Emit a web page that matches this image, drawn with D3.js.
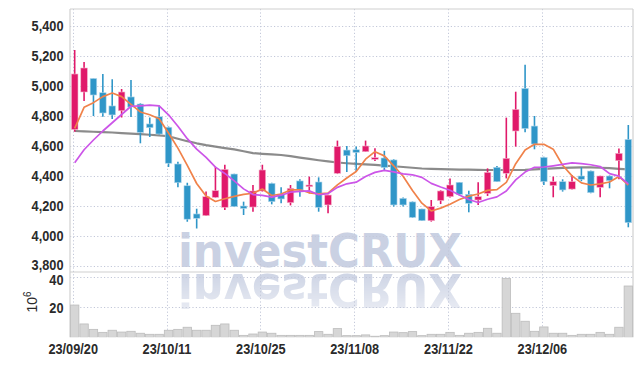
<!DOCTYPE html>
<html><head><meta charset="utf-8">
<script src="https://cdn.jsdelivr.net/npm/d3@7"></script>
<style>body{margin:0;background:#fff;} svg{display:block}</style>
</head><body>
<svg id="c" width="643" height="366"></svg>
<script>
const dates = ["23/09/20","23/09/21","23/09/22","23/09/25","23/09/26","23/09/27","23/10/04","23/10/05","23/10/06","23/10/10",
"23/10/11","23/10/12","23/10/13","23/10/16","23/10/17","23/10/18","23/10/19","23/10/20","23/10/23","23/10/24",
"23/10/25","23/10/26","23/10/27","23/10/30","23/10/31","23/11/01","23/11/02","23/11/03","23/11/06","23/11/07",
"23/11/08","23/11/09","23/11/10","23/11/13","23/11/14","23/11/15","23/11/16","23/11/17","23/11/20","23/11/21",
"23/11/22","23/11/23","23/11/24","23/11/27","23/11/28","23/11/29","23/11/30","23/12/01","23/12/04","23/12/05",
"23/12/06","23/12/07","23/12/08","23/12/11","23/12/12","23/12/13","23/12/14","23/12/15","23/12/18","23/12/19"];
const openP = [4710,4960,5050,4955,4867,4835,4927,4880,4747,4795,
4725,4480,4335,4147,4136,4258,4191,4413,4200,4193,
4300,4351,4278,4222,4367,4330,4360,4207,4418,4573,
4575,4562,4515,4520,4507,4251,4227,4180,4102,4236,
4262,4358,4278,4240,4284,4458,4418,4700,4984,4733,
4524,4336,4362,4313,4400,4433,4324,4400,4502,4644];
const highP = [5240,5160,5050,5080,5045,4980,5040,4885,4790,4870,
4730,4495,4355,4182,4296,4462,4475,4415,4229,4340,
4475,4355,4325,4340,4378,4396,4391,4275,4636,4600,
4596,4636,4585,4568,4512,4256,4230,4182,4240,4305,
4384,4360,4302,4358,4451,4467,4789,4962,5142,4800,
4528,4396,4378,4407,4458,4436,4402,4404,4584,4740];
const lowP = [4695,4900,4800,4795,4780,4790,4793,4618,4660,4675,
4460,4325,4095,4050,4133,4255,4173,4193,4140,4162,
4296,4211,4218,4204,4262,4284,4162,4151,4413,4427,
4429,4560,4500,4440,4196,4196,4120,4100,4096,4213,
4256,4270,4158,4207,4267,4360,4384,4596,4691,4578,
4340,4258,4296,4310,4365,4285,4258,4318,4378,4058];
const closeP = [5080,5120,4940,4820,4807,4960,4860,4690,4722,4680,
4485,4355,4112,4118,4262,4302,4444,4196,4184,4300,
4440,4229,4247,4318,4307,4340,4191,4273,4596,4535,
4557,4600,4522,4456,4207,4207,4124,4102,4196,4300,
4340,4278,4218,4262,4424,4362,4518,4844,4716,4613,
4362,4362,4307,4362,4378,4289,4400,4369,4551,4089];
const volumeM = [21.5,8.9,5.3,3.3,4.7,3.5,4.0,2.7,2.0,2.0,
4.7,5.3,6.7,4.7,4.7,8.0,8.9,4.7,1.3,2.2,
3.5,2.7,1.3,1.3,1.3,1.3,3.8,2.0,5.8,1.1,
1.1,1.6,0.7,1.1,3.5,3.1,3.8,1.1,2.0,2.0,
3.3,1.3,2.7,3.3,6.0,2.7,39.3,16.0,10.7,4.0,
6.9,2.7,2.7,1.3,2.0,2.0,3.3,2.0,6.7,34.2];
const ma5 = [4718,4858,4889,4929,4953,4929,4877,4827,4808,4782,
4687,4586,4471,4350,4266,4230,4248,4264,4278,4285,
4313,4270,4280,4307,4308,4288,4281,4286,4341,4387,
4430,4512,4562,4534,4468,4398,4303,4219,4167,4186,
4212,4243,4266,4280,4304,4309,4357,4482,4573,4611,
4611,4579,4472,4401,4354,4340,4347,4360,4397,4340];
const ma10 = [4489,4575,4640,4700,4755,4810,4865,4868,4872,4868,
4808,4732,4649,4579,4524,4459,4417,4368,4314,4276,
4271,4259,4272,4292,4297,4301,4275,4283,4324,4348,
4359,4396,4424,4438,4428,4414,4408,4391,4351,4327,
4305,4273,4243,4223,4245,4261,4300,4374,4426,4458,
4460,4468,4477,4487,4482,4475,4463,4416,4399,4347];
const ma60 = [4700,4698,4695,4692,4690,4686,4683,4679,4675,4671,
4665,4648,4632,4618,4606,4596,4586,4577,4565,4553,
4548,4544,4540,4532,4523,4514,4505,4497,4490,4485,
4481,4478,4474,4469,4465,4460,4455,4450,4448,4446,
4444,4443,4442,4441,4440,4440,4440,4440,4441,4444,
4448,4451,4454,4456,4458,4457,4455,4452,4448,4444];
const priceTicks = [3800,4000,4200,4400,4600,4800,5000,5200,5400];
const volumeTicks = [20,40];
const dateTicks = ["23/09/20","23/10/11","23/10/25","23/11/08","23/11/22","23/12/06"];

const W = 643, H = 366;
const pL = 70, pR = 633, pT = 9, pSep = 272, pB = 337.3;
const svg = d3.select("#c");
const FONT = "'Liberation Sans',Arial,sans-serif";
const SX = 0.85;

const x = d3.scaleBand().domain(dates).range([pL, pR]).padding(0);
const bw = x.bandwidth();
const cx = d => x(d) + bw / 2;
const y = d3.scaleLinear().domain([3760, 5513.3]).range([pSep, pT]);
const yv = d3.scaleLinear().domain([0, 40]).range([pB, pB - 60]);

const defs = svg.append("defs");
const grad = defs.append("linearGradient").attr("id", "fade").attr("x1", 0).attr("y1", 0).attr("x2", 0).attr("y2", 1);
grad.append("stop").attr("offset", "0%").attr("stop-color", "#fff").attr("stop-opacity", 0.95);
grad.append("stop").attr("offset", "100%").attr("stop-color", "#fff").attr("stop-opacity", 0.4);
const mask = defs.append("mask").attr("id", "m").attr("maskUnits", "userSpaceOnUse")
  .attr("x", 0).attr("y", 0).attr("width", W).attr("height", H);
mask.append("rect").attr("x", 150).attr("y", 272).attr("width", 340).attr("height", 40).attr("fill", "url(#fade)");
defs.append("clipPath").attr("id", "pclip").append("rect").attr("x", pL).attr("y", pT).attr("width", pR - pL).attr("height", pSep - pT);
defs.append("clipPath").attr("id", "vclip").append("rect").attr("x", pL).attr("y", pSep).attr("width", pR - pL).attr("height", pB - pSep);

// watermark
const wmY = 267;
function wm(g) {
  g.append("text").attr("x", 178).attr("y", 0)
    .attr("textLength", 284).attr("lengthAdjust", "spacingAndGlyphs")
    .attr("font-family", "'DejaVu Sans Condensed','DejaVu Sans',sans-serif").attr("font-weight", "bold")
    .attr("font-size", 46).attr("fill", "#cad1e3").text("investCRUX");
}
wm(svg.append("g").attr("transform", `translate(0,${wmY})`));
const refl = svg.append("g").attr("mask", "url(#m)");
wm(refl.append("g").attr("transform", `translate(0,${2 * 270.5 - wmY}) scale(1,-1)`));

// grid
const grid = svg.append("g").attr("stroke", "#c3c8d9").attr("stroke-dasharray", "1.2,2.2").attr("stroke-width", 1);
grid.selectAll(".hp").data(priceTicks).join("line")
  .attr("x1", pL).attr("x2", pR).attr("y1", d => Math.round(y(d)) + 0.5).attr("y2", d => Math.round(y(d)) + 0.5);
grid.selectAll(".hv").data(volumeTicks).join("line")
  .attr("x1", pL).attr("x2", pR).attr("y1", d => Math.round(yv(d)) + 0.5).attr("y2", d => Math.round(yv(d)) + 0.5);
grid.selectAll(".vx").data(dateTicks).join("line")
  .attr("x1", d => Math.round(cx(d)) - 1.5).attr("x2", d => Math.round(cx(d)) - 1.5).attr("y1", pT).attr("y2", pB);

// frame
const frame = svg.append("g").attr("stroke", "#d0d0d0").attr("stroke-width", 1.2).attr("fill", "none");
frame.append("line").attr("x1", pL).attr("x2", pR).attr("y1", pT).attr("y2", pT);
frame.append("line").attr("x1", pR).attr("x2", pR).attr("y1", pT).attr("y2", pB);
frame.append("line").attr("x1", pL).attr("x2", pL).attr("y1", pT).attr("y2", pB);
frame.append("line").attr("x1", pL).attr("x2", pR).attr("y1", pSep).attr("y2", pSep);

// volume bars
svg.append("g").attr("clip-path", "url(#vclip)").selectAll("rect").data(dates).join("rect")
  .attr("x", d => x(d) + 0.5).attr("width", bw - 1)
  .attr("y", (d, i) => yv(volumeM[i])).attr("height", (d, i) => pB - yv(volumeM[i]))
  .attr("fill", "#d6d6d6").attr("stroke", "#bcbcbc").attr("stroke-width", 0.8);

// moving averages
const pg = svg.append("g").attr("clip-path", "url(#pclip)");
function maLine(arr, color, w, op) {
  pg.append("path").datum(arr)
    .attr("d", d3.line().x((v, i) => cx(dates[i])).y(v => y(v)))
    .attr("fill", "none").attr("stroke", color).attr("stroke-width", w).attr("stroke-opacity", op)
    .attr("stroke-linejoin", "round");
}
maLine(ma60, "#777777", 2.2, 0.85);

// candles
const up = "#e0196a", down = "#2f96c8";
const cg = pg.append("g");
cg.selectAll(".w").data(dates).join("line")
  .attr("x1", d => cx(d)).attr("x2", d => cx(d))
  .attr("y1", (d, i) => y(highP[i])).attr("y2", (d, i) => y(lowP[i]))
  .attr("stroke", (d, i) => closeP[i] >= openP[i] ? up : down).attr("stroke-width", 1.6);
cg.selectAll(".b").data(dates).join("rect")
  .attr("x", d => cx(d) - 3.3).attr("width", 6.6)
  .attr("y", (d, i) => y(Math.max(openP[i], closeP[i])))
  .attr("height", (d, i) => Math.max(1.6, Math.abs(y(openP[i]) - y(closeP[i]))))
  .attr("fill", (d, i) => closeP[i] >= openP[i] ? up : down)
  .attr("stroke", (d, i) => closeP[i] >= openP[i] ? "#f3b3cb" : "#b3d8ec").attr("stroke-width", 0.6);

maLine(ma5, "#f0824a", 1.7, 1);
maLine(ma10, "#cc55e8", 1.7, 1);

// axes labels
const lab = svg.append("g").attr("font-family", FONT).attr("font-weight", "bold").attr("font-size", 15).attr("fill", "#2a2a2a");
lab.selectAll(".py").data(priceTicks).join("text")
  .attr("transform", d => `translate(${pL - 6.5},${y(d) - (d === 3800 ? 1.5 : 0)}) scale(${SX},1)`)
  .attr("dy", "0.36em").attr("text-anchor", "end")
  .text(d => d3.format(",")(d));
lab.selectAll(".vy").data(volumeTicks).join("text")
  .attr("transform", d => `translate(${pL - 6.5},${yv(d) + (d === 40 ? 2.5 : 0)}) scale(${SX},1)`)
  .attr("dy", "0.36em").attr("text-anchor", "end")
  .text(d => d);
lab.selectAll(".dx").data(dateTicks).join("text")
  .attr("transform", d => `translate(${cx(d) - 1.5},354) scale(${SX},1)`)
  .attr("text-anchor", "middle")
  .text(d => d);
const unit = lab.append("text").attr("transform", "translate(37,302) rotate(-90)").attr("text-anchor", "middle")
  .attr("font-weight", "normal").attr("font-size", 14);
unit.append("tspan").text("10");
unit.append("tspan").attr("dy", -6).attr("font-size", 10).text("6");
</script>
</body></html>
